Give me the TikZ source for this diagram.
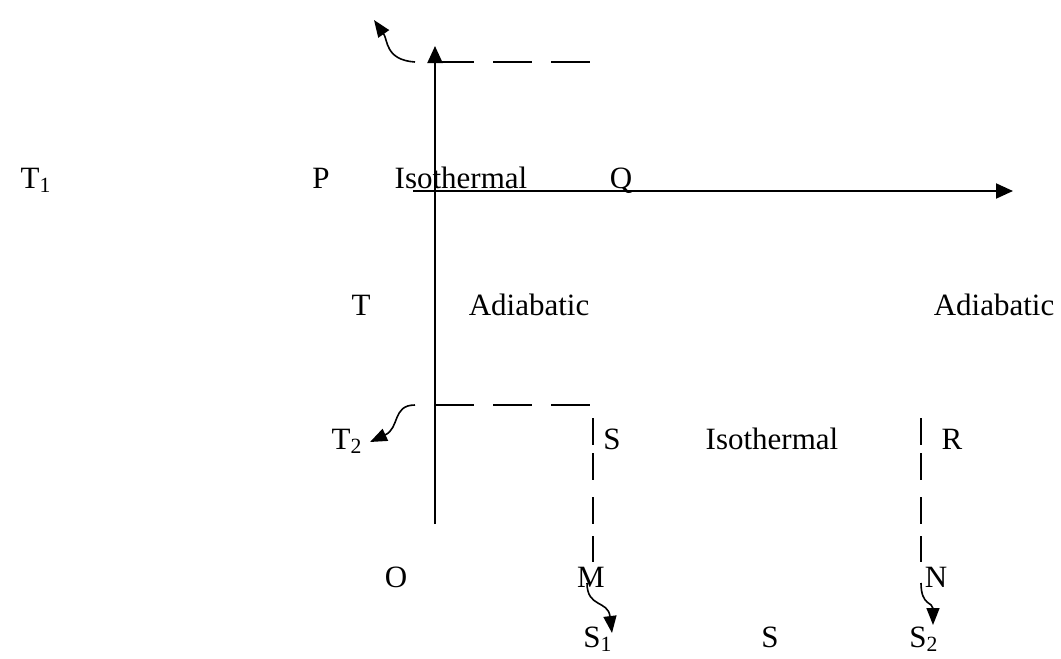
\documentclass[tikz,border=0pt]{standalone}
\usepackage{fontspec}
\setmainfont{Liberation Serif}
\usetikzlibrary{arrows.meta}
\begin{document}
\begin{tikzpicture}[x=0.5pt, y=-0.5pt,
  every node/.style={font=\fontsize{15.5}{18}\selectfont, inner sep=0pt, anchor=base},
  axis/.style={line width=1pt,-{Triangle[width=7.5pt,length=8.5pt]}},
  level/.style={line width=1pt,dash pattern=on 19.5pt off 9.5pt},
  curl/.style={line width=0.8pt,-{Triangle[width=6.5pt,length=8.5pt]}}]
  \useasboundingbox (0,0) rectangle (1061,659);
  % axes
  \coordinate (origin) at (435,524);
  \coordinate (ytop) at (435,46);
  \coordinate (xleft) at (413,191);
  \coordinate (xright) at (1013,191);
  \draw[axis] (origin) -- (ytop);
  \draw[axis] (xleft) -- (xright);
  % labels
  \node (t1) at (36,188) {T\textsubscript{1}};
  \node (p) at (321,188) {P};
  \node (isotop) at (461,188) {Isothermal};
  \node (q) at (621,188) {Q};
  \node (t) at (361,315) {T};
  \node (adialeft) at (529,315) {Adiabatic};
  \node (adiaright) at (994,315) {Adiabatic};
  \node (t2) at (347,449) {T\textsubscript{2}};
  \node (s) at (612,449) {S};
  \node (isobottom) at (772,449) {Isothermal};
  \node (r) at (952,449) {R};
  \node (o) at (396,587) {O};
  \node (m) at (591,587) {M};
  \node (n) at (936,587) {N};
  \node (s1) at (598,647) {S\textsubscript{1}};
  \node (saxis) at (770,647) {S};
  \node (s2) at (924,647) {S\textsubscript{2}};
  % temperature levels
  \coordinate (hotstart) at (435,62);
  \coordinate (hotend) at (593,62);
  \coordinate (coldstart) at (435,405);
  \coordinate (coldend) at (590,405);
  \draw[level] (hotstart) -- (hotend);
  \draw[level] (coldstart) -- (coldend);
  % entropy drops
  \foreach \ya/\yb in {418/445, 453/480, 497/524, 536/562}{
    \draw[line width=1pt] (593,\ya) -- (593,\yb);
    \draw[line width=1pt] (921,\ya) -- (921,\yb);
  }
  % curly pointers
  \coordinate (hotcurl) at (415,62);
  \coordinate (hottip) at (374,20);
  \coordinate (coldcurl) at (415,405);
  \coordinate (coldtip) at (370,442);
  \coordinate (mcurl) at (587,583);
  \coordinate (mtip) at (612,633);
  \coordinate (ncurl) at (921,583);
  \coordinate (ntip) at (933,625);
  \draw[curl] (hotcurl) .. controls (385,60) and (388,40) .. (hottip);
  \draw[curl] (coldcurl) .. controls (392,405) and (400,428) .. (coldtip);
  \draw[curl] (mcurl) .. controls (587,608) and (608,600) .. (mtip);
  \draw[curl] (ncurl) .. controls (921,606) and (933,602) .. (ntip);
\end{tikzpicture}
\end{document}
